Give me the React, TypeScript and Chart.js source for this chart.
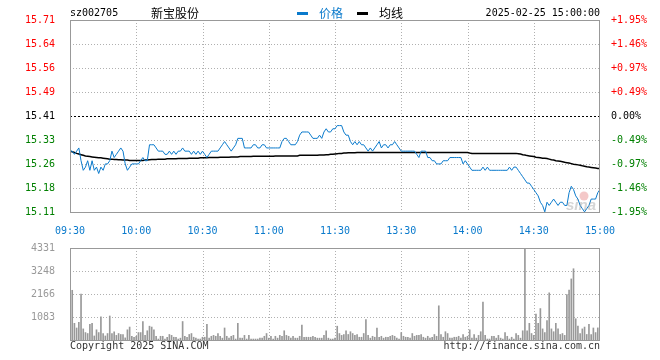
import React, { useEffect, useRef } from "react";
import { Chart, registerables } from "chart.js";

Chart.register(...registerables);

const STOCK_CODE = "sz002705";
const STOCK_NAME = "新宝股份";
const DATE_TIME = "2025-02-25 15:00:00";
const LEGEND_PRICE = "价格";
const LEGEND_AVG = "均线";
const COPYRIGHT = "Copyright 2025 SINA.COM";
const SITE_URL = "http://finance.sina.com.cn";
const WATERMARK = "sina";

const PRE_CLOSE = 15.41;
const PCT_RANGE = 1.95;

const priceTickLabels = ["15.11", "15.18", "15.26", "15.33", "15.41", "15.49", "15.56", "15.64", "15.71"];
const pctTickLabels = ["-1.95%", "-1.46%", "-0.97%", "-0.49%", "0.00%", "+0.49%", "+0.97%", "+1.46%", "+1.95%"];
const timeTickIndex = [0, 30, 60, 90, 120, 150, 180, 210, 240];
const timeTickLabels = ["09:30", "10:00", "10:30", "11:00", "11:30", "13:30", "14:00", "14:30", "15:00"];
const volumeTickValues = [0, 1083, 2166, 3248, 4331];
const volumeTickLabels = ["", "1083", "2166", "3248", "4331"];

const prices = [
  15.30, 15.30, 15.29, 15.30, 15.31, 15.27, 15.24, 15.25, 15.27, 15.24,
  15.27, 15.24, 15.25, 15.23, 15.25, 15.24, 15.26, 15.26, 15.27, 15.30,
  15.28, 15.29, 15.30, 15.31, 15.30, 15.26, 15.24, 15.25, 15.26, 15.26,
  15.26, 15.26, 15.27, 15.28, 15.27, 15.27, 15.32, 15.32, 15.32, 15.31,
  15.30, 15.30, 15.30, 15.29, 15.29, 15.30, 15.29, 15.30, 15.29, 15.30,
  15.30, 15.31, 15.30, 15.30, 15.30, 15.29, 15.30, 15.29, 15.30, 15.29,
  15.30, 15.29, 15.28, 15.29, 15.30, 15.30, 15.30, 15.30, 15.31, 15.32,
  15.33, 15.32, 15.31, 15.30, 15.31, 15.32, 15.34, 15.34, 15.34, 15.31,
  15.31, 15.31, 15.31, 15.32, 15.32, 15.31, 15.31, 15.32, 15.32, 15.31,
  15.31, 15.31, 15.31, 15.31, 15.31, 15.31, 15.33, 15.34, 15.34, 15.33,
  15.32, 15.32, 15.32, 15.33, 15.35, 15.36, 15.36, 15.36, 15.36, 15.35,
  15.34, 15.34, 15.34, 15.35, 15.34, 15.36, 15.37, 15.36, 15.36, 15.37,
  15.37,
  15.38, 15.38, 15.38, 15.36, 15.35, 15.35, 15.33, 15.32, 15.33, 15.32,
  15.33, 15.32, 15.32, 15.31, 15.30, 15.31, 15.30, 15.31, 15.32, 15.33,
  15.31, 15.32, 15.32, 15.31, 15.32, 15.32, 15.33, 15.32, 15.31, 15.30,
  15.30, 15.30, 15.30, 15.30, 15.30, 15.30, 15.29, 15.28, 15.30, 15.30,
  15.30, 15.28, 15.28, 15.27, 15.27, 15.26, 15.26, 15.26, 15.27, 15.27,
  15.27, 15.28, 15.28, 15.28, 15.28, 15.28, 15.28, 15.26, 15.27, 15.26,
  15.25, 15.24, 15.24, 15.24, 15.24, 15.24, 15.25, 15.24, 15.25, 15.24,
  15.24, 15.24, 15.24, 15.24, 15.24, 15.24, 15.24, 15.24, 15.25, 15.24,
  15.25, 15.25, 15.24, 15.23, 15.22, 15.21, 15.20, 15.20, 15.19, 15.18,
  15.17, 15.16, 15.14, 15.13, 15.11, 15.14, 15.13, 15.14, 15.15, 15.14,
  15.13, 15.14, 15.14, 15.13, 15.13, 15.17, 15.19, 15.18, 15.16, 15.15,
  15.13, 15.12, 15.11, 15.12, 15.13, 15.15, 15.15, 15.15, 15.17, 15.18,
];

const avgPrices = [
  15.300, 15.298, 15.296, 15.293, 15.291, 15.289, 15.287, 15.285, 15.284, 15.283,
  15.282, 15.281, 15.280, 15.279, 15.279, 15.278, 15.277, 15.276, 15.275, 15.275,
  15.274, 15.274, 15.273, 15.273, 15.272, 15.272, 15.272, 15.271, 15.271, 15.271,
  15.271, 15.271, 15.271, 15.271, 15.272, 15.272, 15.273, 15.274, 15.274, 15.274,
  15.275, 15.275, 15.275, 15.275, 15.276, 15.276, 15.276, 15.276, 15.276, 15.277,
  15.277, 15.277, 15.277, 15.277, 15.278, 15.278, 15.278, 15.278, 15.278, 15.279,
  15.279, 15.279, 15.279, 15.280, 15.280, 15.280, 15.280, 15.280, 15.281, 15.281,
  15.281, 15.281, 15.281, 15.282, 15.282, 15.282, 15.282, 15.283, 15.283, 15.283,
  15.283, 15.283, 15.283, 15.284, 15.284, 15.284, 15.284, 15.284, 15.284, 15.284,
  15.284, 15.284, 15.284, 15.285, 15.285, 15.285, 15.285, 15.285, 15.285, 15.285,
  15.285, 15.285, 15.285, 15.285, 15.287, 15.287, 15.287, 15.287, 15.287, 15.287,
  15.287, 15.287, 15.287, 15.288, 15.288, 15.288, 15.289, 15.289, 15.290, 15.290,
  15.291, 15.292, 15.293, 15.293, 15.294, 15.294, 15.295, 15.295, 15.295, 15.295,
  15.296, 15.296, 15.296, 15.296, 15.296, 15.296, 15.296, 15.296, 15.296, 15.296,
  15.296, 15.296, 15.296, 15.296, 15.296, 15.296, 15.296, 15.296, 15.296, 15.296,
  15.296, 15.296, 15.296, 15.296, 15.296, 15.296, 15.296, 15.296, 15.296, 15.296,
  15.296, 15.296, 15.296, 15.296, 15.296, 15.296, 15.296, 15.296, 15.296, 15.296,
  15.296, 15.296, 15.296, 15.296, 15.296, 15.296, 15.296, 15.296, 15.296, 15.296,
  15.296, 15.294, 15.293, 15.293, 15.293, 15.293, 15.293, 15.293, 15.293, 15.293,
  15.293, 15.293, 15.293, 15.293, 15.293, 15.293, 15.293, 15.293, 15.293, 15.293,
  15.293, 15.293, 15.293, 15.292, 15.291, 15.289, 15.288, 15.286, 15.285, 15.284,
  15.283, 15.281, 15.280, 15.279, 15.278, 15.278, 15.277, 15.275, 15.273, 15.272,
  15.270, 15.269, 15.268, 15.267, 15.265, 15.264, 15.263, 15.261, 15.259, 15.258,
  15.257, 15.256, 15.254, 15.253, 15.251, 15.250, 15.249, 15.248, 15.247, 15.246,
  15.246,
];

const volumes = [
  523, 2340, 785, 566, 828, 2165, 523, 350, 305, 740,
  785, 190, 480, 350, 1090, 305, 190, 305, 1130, 305,
  390, 218, 305, 260, 260, 100, 480, 610, 175, 130,
  175, 350, 350, 870, 218, 435, 650, 610, 480, 175,
  45, 175, 175, 45, 130, 260, 218, 130, 130, 45,
  87, 870, 175, 130, 260, 305, 130, 87, 45, 45,
  130, 130, 740, 87, 175, 218, 175, 305, 175, 87,
  566, 175, 87, 175, 218, 45, 785, 87, 87, 218,
  45, 218, 45, 45, 45, 45, 87, 87, 175, 305,
  87, 175, 45, 175, 87, 218, 175, 435, 218, 175,
  87, 175, 87, 87, 175, 700, 130, 130, 130, 130,
  175, 130, 87, 87, 87, 218, 435, 87, 45, 45,
  87,
  650, 305, 218, 260, 435, 260, 390, 305, 218, 260,
  130, 130, 305, 960, 218, 87, 175, 130, 566, 130,
  175, 87, 130, 130, 175, 218, 175, 87, 45, 350,
  175, 130, 130, 87, 305, 175, 218, 218, 260, 130,
  87, 175, 87, 130, 260, 175, 1610, 260, 130, 390,
  305, 87, 87, 130, 130, 175, 87, 260, 130, 175,
  480, 87, 260, 87, 218, 390, 1790, 218, 45, 45,
  175, 175, 87, 218, 87, 45, 350, 175, 45, 130,
  45, 305, 218, 87, 435, 4331, 435, 785, 305, 218,
  1220, 785, 1480, 523, 350, 915, 2220, 523, 390, 785,
  523, 260, 305, 218, 2135, 2350, 2875, 3355, 1000, 650,
  305, 523, 610, 260, 740, 260, 566, 350, 570, 480,
];

const MONO = "'DejaVu Sans Mono', monospace";
const CJK = "'Noto Sans CJK SC', sans-serif";
const BLUE = "#0a7acc";
const GRID = "#b0b0b0";
const FRAME = "#999999";

const priceMin = PRE_CLOSE * (1 - PCT_RANGE / 100);
const priceMax = PRE_CLOSE * (1 + PCT_RANGE / 100);
const priceTickValues = priceTickLabels.map((_, i) => PRE_CLOSE + ((i - 4) / 4) * (priceMax - PRE_CLOSE));

function hLine(ctx: CanvasRenderingContext2D, x1: number, x2: number, y: number) {
  const yy = Math.round(y) + 0.5;
  ctx.beginPath();
  ctx.moveTo(x1, yy);
  ctx.lineTo(x2, yy);
  ctx.stroke();
}
function vLine(ctx: CanvasRenderingContext2D, x: number, y1: number, y2: number) {
  const xx = Math.round(x) + 0.5;
  ctx.beginPath();
  ctx.moveTo(xx, y1);
  ctx.lineTo(xx, y2);
  ctx.stroke();
}

const gridPluginFactory = (yKey: string, yValues: number[], centerValue: number | null) => ({
  id: "customGrid",
  beforeDatasetsDraw(chart: any) {
    const { ctx, chartArea, scales } = chart;
    const { left, right, top, bottom } = chartArea;
    ctx.save();
    ctx.lineWidth = 1;
    ctx.strokeStyle = GRID;
    ctx.setLineDash([1, 2]);
    timeTickIndex.slice(1, -1).forEach((v) => vLine(ctx, scales.x.getPixelForValue(v), top, bottom));
    yValues.slice(1, -1).forEach((v, i) => {
      if (centerValue !== null && i + 1 === 4) return;
      hLine(ctx, left, right, scales[yKey].getPixelForValue(v));
    });
    if (centerValue !== null) {
      ctx.strokeStyle = "#000";
      ctx.setLineDash([2, 2]);
      hLine(ctx, left, right, scales[yKey].getPixelForValue(centerValue));
    }
    ctx.restore();
  },
  afterDatasetsDraw(chart: any) {
    const { ctx, chartArea } = chart;
    const { left, right, top, bottom } = chartArea;
    ctx.save();
    ctx.strokeStyle = FRAME;
    ctx.lineWidth = 1;
    ctx.setLineDash([]);
    ctx.strokeRect(Math.round(left) + 0.5, Math.round(top) + 0.5, Math.round(right - left) - 1, Math.round(bottom - top));
    ctx.restore();
  },
});

const headerPlugin = {
  id: "header",
  afterDraw(chart: any) {
    const { ctx, chartArea } = chart;
    const { left, right, bottom } = chartArea;
    ctx.save();
    ctx.textBaseline = "middle";
    ctx.fillStyle = "#000";
    ctx.font = `10px ${MONO}`;
    ctx.textAlign = "left";
    ctx.fillText(STOCK_CODE, left, 13);
    ctx.font = `12px ${CJK}`;
    ctx.fillText(STOCK_NAME, 151, 13);
    ctx.fillStyle = BLUE;
    ctx.fillRect(297, 12, 11, 3);
    ctx.fillText(LEGEND_PRICE, 319, 13);
    ctx.fillStyle = "#000";
    ctx.fillRect(357, 12, 11, 3);
    ctx.fillText(LEGEND_AVG, 379, 13);
    ctx.font = `10px ${MONO}`;
    ctx.textAlign = "right";
    ctx.fillText(DATE_TIME, right, 13);
    // watermark
    ctx.globalAlpha = 0.35;
    ctx.fillStyle = "#e06060";
    ctx.beginPath();
    ctx.arc(584, 196, 4.5, 0, Math.PI * 2);
    ctx.fill();
    ctx.fillStyle = "#888";
    ctx.font = `italic bold 15px 'Liberation Sans', sans-serif`;
    ctx.textAlign = "left";
    ctx.textBaseline = "alphabetic";
    ctx.fillText(WATERMARK, 566, bottom - 2);
    ctx.restore();
  },
};

const footerPlugin = {
  id: "footer",
  afterDraw(chart: any) {
    const { ctx, chartArea } = chart;
    const { left, right, bottom } = chartArea;
    ctx.save();
    ctx.font = `10px ${MONO}`;
    ctx.fillStyle = "#333";
    ctx.textBaseline = "middle";
    ctx.textAlign = "left";
    ctx.fillText(COPYRIGHT, left, bottom + 6);
    ctx.textAlign = "right";
    ctx.fillText(SITE_URL, right, bottom + 6);
    ctx.restore();
  },
};

export default function App() {
  const priceRef = useRef<HTMLCanvasElement>(null);
  const volRef = useRef<HTMLCanvasElement>(null);

  useEffect(() => {
    const priceChart = new Chart(priceRef.current as HTMLCanvasElement, {
      type: "line",
      data: {
        datasets: [
          {
            label: LEGEND_PRICE,
            data: prices.map((y, i) => ({ x: i, y })),
            borderColor: BLUE,
            borderWidth: 1,
            pointRadius: 0,
            tension: 0,
            order: 1,
          },
          {
            label: LEGEND_AVG,
            data: avgPrices.map((y, i) => ({ x: i, y })),
            borderColor: "#000",
            borderWidth: 1.5,
            pointRadius: 0,
            tension: 0,
            order: 2,
          },
        ],
      },
      options: {
        animation: false,
        responsive: false,
        maintainAspectRatio: false,
        layout: { padding: { top: 20, left: 0, right: 0, bottom: 0 } },
        plugins: { legend: { display: false }, tooltip: { enabled: false } },
        scales: {
          x: {
            type: "linear",
            min: 0,
            max: 240,
            grid: { display: false },
            border: { display: false },
            afterBuildTicks: (s: any) => {
              s.ticks = timeTickIndex.map((v) => ({ value: v }));
            },
            afterFit: (s: any) => {
              s.height = 23;
            },
            ticks: {
              autoSkip: false,
              maxRotation: 0,
              padding: 5,
              color: BLUE,
              font: { family: MONO, size: 10 },
              callback: (_v: any, idx: number) => timeTickLabels[idx],
            },
          },
          y: {
            type: "linear",
            position: "left",
            min: priceMin,
            max: priceMax,
            grid: { display: false },
            border: { display: false },
            afterBuildTicks: (s: any) => {
              s.ticks = priceTickValues.map((v) => ({ value: v }));
            },
            afterFit: (s: any) => {
              s.width = 70;
            },
            ticks: {
              padding: 7,
              font: { family: MONO, size: 10 },
              color: (c: any) => (c.index < 4 ? "#008000" : c.index === 4 ? "#000" : "#ff0000"),
              callback: (_v: any, idx: number) => priceTickLabels[idx],
            },
          },
          y2: {
            type: "linear",
            position: "right",
            min: priceMin,
            max: priceMax,
            grid: { display: false },
            border: { display: false },
            afterBuildTicks: (s: any) => {
              s.ticks = priceTickValues.map((v) => ({ value: v }));
            },
            afterFit: (s: any) => {
              s.width = 60;
            },
            ticks: {
              padding: 3,
              font: { family: MONO, size: 10 },
              color: (c: any) => (c.index < 4 ? "#008000" : c.index === 4 ? "#000" : "#ff0000"),
              callback: (_v: any, idx: number) => pctTickLabels[idx],
            },
          },
        },
      },
      plugins: [gridPluginFactory("y", priceTickValues, PRE_CLOSE), headerPlugin],
    } as any);

    const volChart = new Chart(volRef.current as HTMLCanvasElement, {
      type: "bar",
      data: {
        datasets: [
          {
            label: "volume",
            data: volumes.map((y, i) => ({ x: i, y })),
            backgroundColor: "#999999",
            barThickness: 1,
          },
        ],
      },
      options: {
        animation: false,
        responsive: false,
        maintainAspectRatio: false,
        layout: { padding: { top: 6, left: 0, right: 60, bottom: 0 } },
        plugins: { legend: { display: false }, tooltip: { enabled: false } },
        scales: {
          x: {
            type: "linear",
            min: 0,
            max: 240,
            offset: false,
            grid: { display: false },
            border: { display: false },
            ticks: { display: false },
            afterFit: (s: any) => {
              s.height = 20;
            },
          },
          y: {
            type: "linear",
            position: "left",
            min: 0,
            max: 4331,
            grid: { display: false },
            border: { display: false },
            afterBuildTicks: (s: any) => {
              s.ticks = volumeTickValues.map((v) => ({ value: v }));
            },
            afterFit: (s: any) => {
              s.width = 70;
            },
            ticks: {
              padding: 7,
              color: "#999",
              font: { family: MONO, size: 10 },
              callback: (_v: any, idx: number) => volumeTickLabels[idx],
            },
          },
        },
      },
      plugins: [gridPluginFactory("y", volumeTickValues, null), footerPlugin],
    } as any);

    return () => {
      priceChart.destroy();
      volChart.destroy();
    };
  }, []);

  return (
    <div style={{ position: "absolute", left: 0, top: 0, width: 660, height: 360, background: "#fff" }}>
      <canvas
        ref={priceRef}
        width={660}
        height={235}
        style={{ position: "absolute", left: 0, top: 0, width: 660, height: 235 }}
      />
      <canvas
        ref={volRef}
        width={660}
        height={125}
        style={{ position: "absolute", left: 0, top: 235, width: 660, height: 125 }}
      />
    </div>
  );
}
